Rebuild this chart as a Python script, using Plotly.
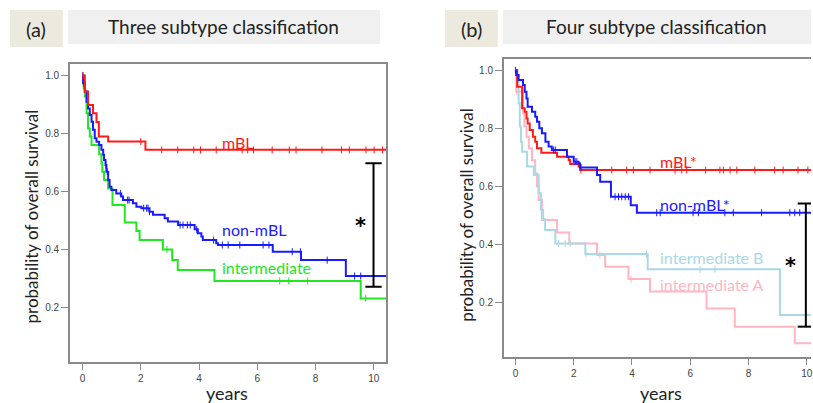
import plotly.graph_objects as go

W, H = 813, 403

# ---------------- data: panel (a) Three subtype classification ----------------
a_mbl_t = [0.08, 0.19, 0.36, 0.48, 0.56, 0.88, 2.16]
a_mbl_s = [0.945, 0.899, 0.87, 0.84, 0.79, 0.773, 0.744]
a_mbl_cens = [0.02, 2.0, 2.72, 3.27, 3.82, 4.05, 4.59, 5.48, 5.67, 5.87, 6.51, 7.1, 7.33,
              8.22, 8.89, 9.16, 9.73, 10.01, 10.3]

a_non_t = [0.02, 0.08, 0.14, 0.19, 0.25, 0.31, 0.36, 0.42, 0.48, 0.57, 0.65, 0.71, 0.74,
           0.79, 0.82, 0.88, 0.93, 0.99, 1.16, 1.33, 1.39, 1.73, 1.85, 2.02, 2.3, 2.42,
           2.82, 2.93, 3.28, 3.85, 3.96, 4.08, 4.13, 4.59, 4.65, 6.53, 7.5, 9.04]
a_non_s = [0.974, 0.945, 0.91, 0.887, 0.864, 0.841, 0.813, 0.784, 0.772, 0.761, 0.744,
           0.727, 0.709, 0.692, 0.669, 0.64, 0.617, 0.606, 0.594, 0.583, 0.571, 0.56,
           0.548, 0.543, 0.531, 0.52, 0.508, 0.497, 0.485, 0.47, 0.457, 0.445, 0.433,
           0.422, 0.416, 0.393, 0.364, 0.309]
a_non_cens = [0.01, 0.04, 0.8, 0.85, 1.3, 1.55, 1.6, 2.1, 2.2, 2.25, 2.3, 3.35, 3.45,
              3.6, 3.7, 3.92, 4.5, 4.8, 5.0, 5.4, 6.2, 6.4, 7.2, 7.48, 8.4, 9.34, 9.55]

a_int_t = [0.04, 0.08, 0.14, 0.19, 0.25, 0.31, 0.57, 0.65, 0.68, 0.74, 0.88, 1.03, 1.45,
           1.85, 1.96, 2.76, 3.08, 3.27, 4.53, 9.55]
a_int_s = [0.956, 0.928, 0.87, 0.818, 0.79, 0.761, 0.729, 0.698, 0.669, 0.64, 0.611,
           0.554, 0.494, 0.464, 0.433, 0.401, 0.364, 0.33, 0.292, 0.232]
a_int_cens = [2.9, 6.77, 7.08, 7.72, 9.72]

# ---------------- data: panel (b) Four subtype classification ----------------
b_mbl_t = [0.06, 0.23, 0.32, 0.38, 0.42, 0.49, 0.6, 0.68, 0.74, 0.89, 1.43, 1.83, 1.88,
           2.17, 2.22]
b_mbl_s = [0.943, 0.869, 0.857, 0.834, 0.817, 0.794, 0.771, 0.754, 0.731, 0.716, 0.702,
           0.69, 0.677, 0.668, 0.656]
b_mbl_cens = [2.25, 3.31, 3.82, 4.05, 4.62, 5.48, 5.71, 5.88, 6.53, 7.02, 7.14, 7.37,
              7.6, 8.22, 8.9, 9.19, 9.7, 10.04]

b_non_t = [0.03, 0.11, 0.26, 0.32, 0.38, 0.42, 0.57, 0.68, 0.74, 0.82, 0.91, 1.03, 1.14,
           1.25, 1.77, 2.0, 2.17, 2.22, 2.8, 2.91, 3.28, 3.96, 4.17]
b_non_s = [0.984, 0.967, 0.949, 0.926, 0.903, 0.874, 0.857, 0.84, 0.823, 0.8, 0.783,
           0.754, 0.737, 0.725, 0.702, 0.685, 0.679, 0.665, 0.639, 0.616, 0.564, 0.535,
           0.509]
b_non_cens = [0.0, 1.31, 1.37, 2.05, 2.11, 2.25, 3.42, 3.54, 3.65, 3.77, 3.88, 4.85, 4.97,
              6.1, 6.28, 7.19, 7.48, 8.45, 9.42, 9.59, 9.76]

b_intB_t = [0.06, 0.11, 0.15, 0.19, 0.23, 0.4, 0.63, 0.8, 0.88, 0.95, 1.02, 1.37, 2.4,
            4.54, 9.08]
b_intB_s = [0.966, 0.886, 0.806, 0.754, 0.719, 0.668, 0.639, 0.576, 0.518, 0.486, 0.449,
            0.403, 0.367, 0.314, 0.156]
b_intB_cens = [1.48, 1.71, 1.88, 2.42, 4.5, 6.34, 6.85]

b_intA_t = [0.03, 0.26, 0.31, 0.38, 0.46, 0.57, 0.68, 0.74, 0.8, 0.91, 1.43, 1.85, 2.8,
            3.08, 3.88, 4.62, 6.56, 7.53, 9.59]
b_intA_s = [0.926, 0.852, 0.806, 0.771, 0.731, 0.69, 0.645, 0.599, 0.553, 0.484, 0.441,
            0.403, 0.363, 0.323, 0.28, 0.237, 0.179, 0.116, 0.059]
b_intA_cens = [0.05, 2.9, 3.97]

x_ticks = [0, 2, 4, 6, 8, 10]
y_ticks = [0.2, 0.4, 0.6, 0.8, 1.0]

RED, BLUE, GREEN = "#ff1a1a", "#1a1aff", "#22e622"
LBLUE, PINK = "#a9d8e6", "#ffb6c1"

fig = go.Figure()


def surv_at(ts, ss, t):
    s = 1.0
    for ti, si in zip(ts, ss):
        if ti <= t:
            s = si
    return s


def add_curve(ts, ss, cens, color, xa, ya, t_end, width=2):
    xs = [0.0] + list(ts) + [t_end]
    ys = [1.0] + list(ss) + [ss[-1]]
    fig.add_trace(go.Scatter(x=xs, y=ys, mode="lines", line=dict(color=color, width=width, shape="hv"),
                             xaxis=xa, yaxis=ya, showlegend=False, hoverinfo="skip"))
    fig.add_trace(go.Scatter(x=cens, y=[surv_at(ts, ss, c) for c in cens], mode="markers",
                             marker=dict(symbol="line-ns", size=5, line=dict(color=color, width=1)),
                             xaxis=xa, yaxis=ya, showlegend=False, hoverinfo="skip"))


# panel (a)
add_curve(a_int_t, a_int_s, a_int_cens, GREEN, "x", "y", 10.5)
add_curve(a_non_t, a_non_s, a_non_cens, BLUE, "x", "y", 10.5)
add_curve(a_mbl_t, a_mbl_s, a_mbl_cens, RED, "x", "y", 10.5)
# panel (b)
add_curve(b_intA_t, b_intA_s, b_intA_cens, PINK, "x2", "y2", 10.3)
add_curve(b_intB_t, b_intB_s, b_intB_cens, LBLUE, "x2", "y2", 10.3)
add_curve(b_mbl_t, b_mbl_s, b_mbl_cens, RED, "x2", "y2", 10.3)
add_curve(b_non_t, b_non_s, b_non_cens, BLUE, "x2", "y2", 10.3)


def px(x):
    return x / W


def py(y):
    return 1 - y / H


AX = "#8a8a8a"
tickfont = dict(family="Liberation Sans, Arial", size=10, color="#444")
common_x = dict(tickvals=x_ticks, ticks="outside", ticklen=6, tickcolor=AX, tickwidth=1,
                showline=True, linecolor=AX, linewidth=1.5, showgrid=False, zeroline=False,
                tickfont=tickfont, fixedrange=True, ticklabeloverflow="allow")
common_y = dict(tickvals=y_ticks, tickformat=".1f", ticks="outside", ticklen=7, tickcolor=AX,
                tickwidth=1, showline=True, linecolor=AX, linewidth=1.5, showgrid=False,
                zeroline=False, tickfont=tickfont, fixedrange=True)

fig.update_layout(
    width=W, height=H, margin=dict(l=0, r=0, t=0, b=0),
    paper_bgcolor="white", plot_bgcolor="white",
    xaxis=dict(domain=[px(70), px(387)], range=[-0.435, 10.42], anchor="y", mirror=True, **common_x),
    yaxis=dict(domain=[py(362), py(64)], range=[0.0128, 1.040], anchor="x", mirror=True, **common_y),
    xaxis2=dict(domain=[px(505), 1.0], range=[-0.40, 10.147], anchor="y2", mirror=True, **common_x),
    yaxis2=dict(domain=[py(357), py(59)], range=[0.0114, 1.039], anchor="x2", mirror=False, **common_y),
)

shapes = [
    # title boxes
    dict(type="rect", xref="paper", yref="paper", x0=px(10), x1=px(63), y0=py(47), y1=py(10),
         fillcolor="#eceadf", line=dict(width=0), layer="below"),
    dict(type="rect", xref="paper", yref="paper", x0=px(68), x1=px(381), y0=py(44), y1=py(10),
         fillcolor="#f0f0f0", line=dict(width=0), layer="below"),
    dict(type="rect", xref="paper", yref="paper", x0=px(446), x1=px(499), y0=py(47), y1=py(10),
         fillcolor="#eceadf", line=dict(width=0), layer="below"),
    dict(type="rect", xref="paper", yref="paper", x0=px(504), x1=px(813), y0=py(44), y1=py(10),
         fillcolor="#f0f0f0", line=dict(width=0), layer="below"),
    # significance bracket (a)
    dict(type="line", xref="x", yref="y", x0=9.99, x1=9.99, y0=0.272, y1=0.698, line=dict(color="black", width=2)),
    dict(type="line", xref="x", yref="y", x0=9.71, x1=10.27, y0=0.698, y1=0.698, line=dict(color="black", width=2)),
    dict(type="line", xref="x", yref="y", x0=9.71, x1=10.27, y0=0.272, y1=0.272, line=dict(color="black", width=2)),
    # significance bracket (b)
    dict(type="line", xref="x2", yref="y2", x0=9.97, x1=9.97, y0=0.116, y1=0.541, line=dict(color="black", width=2)),
    dict(type="line", xref="x2", yref="y2", x0=9.69, x1=10.3, y0=0.541, y1=0.541, line=dict(color="black", width=2)),
    dict(type="line", xref="x2", yref="y2", x0=9.69, x1=10.3, y0=0.116, y1=0.116, line=dict(color="black", width=2)),
]
fig.update_layout(shapes=shapes)

FONT = "Lato"
ann = []


def txt(text, x, y, size, color, xref="paper", yref="paper", xanchor="center", angle=0, family=FONT):
    ann.append(dict(text=text, x=x, y=y, xref=xref, yref=yref, showarrow=False, xanchor=xanchor,
                    yanchor="middle", textangle=angle, font=dict(family=family, size=size, color=color)))


# titles
txt("(a)", px(36.5), py(28.5), 20, "#222")
txt("Three subtype classification", px(224.5), py(27), 19, "#222")
txt("(b)", px(472.5), py(28.5), 20, "#222")
txt("Four subtype classification", px(658), py(27), 19, "#222")
# axis titles
txt("years", px(228), py(393), 18, "#222")
txt("years", px(662.5), py(393), 18, "#222")
txt("probability of overall survival", px(32), py(216.5), 17, "#222", angle=-90)
txt("probability of overall survival", px(467), py(215), 17, "#222", angle=-90)
# curve labels (a)
txt("mBL", 4.71, 0.768, 16, RED, "x", "y", "left")
txt("non-mBL", 4.71, 0.47, 16, BLUE, "x", "y", "left")
txt("intermediate", 4.71, 0.337, 16, GREEN, "x", "y", "left")
txt("<b>*</b>", 9.55, 0.48, 21, "black", "x", "y", family="DejaVu Sans")
# curve labels (b)
txt("mBL*", 4.88, 0.687, 16, RED, "x2", "y2", "left")
txt("non-mBL*", 4.88, 0.536, 16, BLUE, "x2", "y2", "left")
txt("intermediate B", 4.88, 0.353, 16, LBLUE, "x2", "y2", "left")
txt("intermediate A", 4.88, 0.263, 16, PINK, "x2", "y2", "left")
txt("<b>*</b>", 9.45, 0.325, 21, "black", "x2", "y2", family="DejaVu Sans")
fig.update_layout(annotations=ann)

fig.write_html("out.html")
